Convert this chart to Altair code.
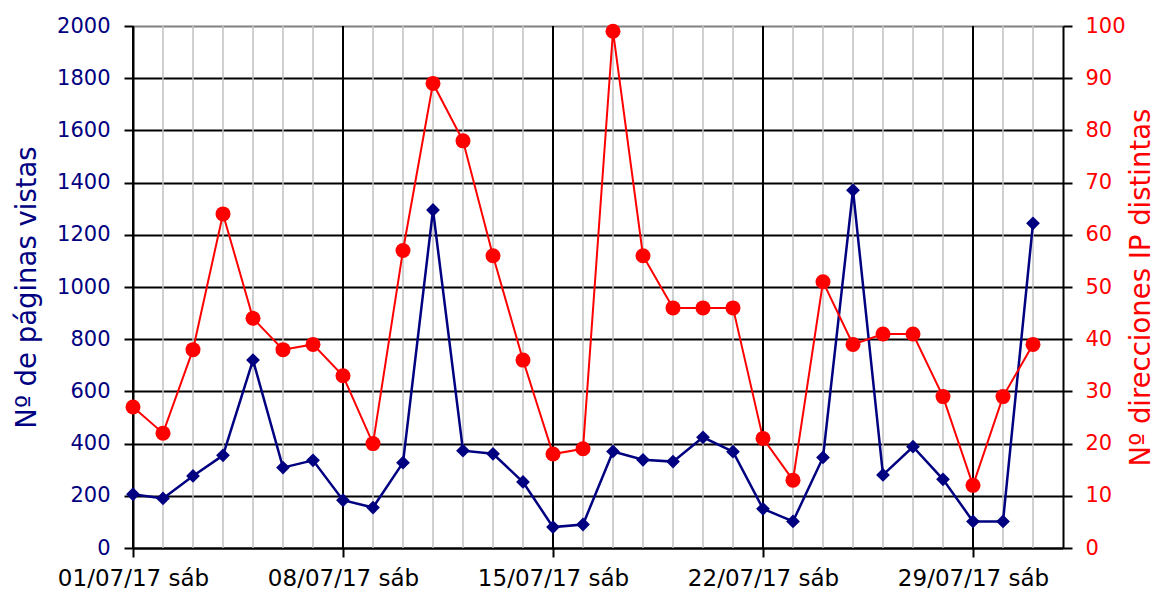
import altair as alt
import pandas as pd

days = list(range(1, 32))
paginas = [206, 190, 276, 355, 720, 308, 336, 183, 155, 327, 1295, 373, 361, 253, 80, 90,
           370, 338, 331, 424, 369, 150, 102, 347, 1371, 280, 388, 263, 102, 102, 1244]
ips = [27, 22, 38, 64, 44, 38, 39, 33, 20, 57, 89, 78, 56, 36, 18, 19,
       99, 56, 46, 46, 46, 21, 13, 51, 39, 41, 41, 29, 12, 29, 39]
major_days = [1, 8, 15, 22, 29]
major_labels = ["01/07/17 sáb", "08/07/17 sáb", "15/07/17 sáb", "22/07/17 sáb", "29/07/17 sáb"]
x_domain = [1, 32]
left_ticks = list(range(0, 2001, 200))
right_ticks = list(range(0, 101, 10))

NAVY = "#000080"
RED = "#FF0000"
FONT = "DejaVu Sans"

df = pd.DataFrame({"dia": days, "paginas": paginas, "ips": ips})
minor_df = pd.DataFrame({"dia": days})
major_df = pd.DataFrame({"dia": major_days})

label_expr = " : ".join(f"datum.value == {d} ? '{l}'" for d, l in zip(major_days, major_labels)) + " : ''"

x_enc = alt.X(
    "dia:Q",
    scale=alt.Scale(domain=x_domain, nice=False, zero=False),
    axis=alt.Axis(
        values=major_days, labelExpr=label_expr, title=None, grid=False,
        domain=True, domainColor="black", domainWidth=2,
        ticks=True, tickSize=9, tickWidth=2, tickColor="black",
        labelFontSize=23, labelColor="black", labelPadding=10, labelFont=FONT,
        labelOverlap=False, labelFlush=False,
    ),
)

minor = alt.Chart(minor_df).mark_rule(color="#C0C0C0", strokeWidth=1.5).encode(x=x_enc)
major = alt.Chart(major_df).mark_rule(color="black", strokeWidth=2).encode(x=x_enc)

blue = alt.Chart(df).mark_line(
    color=NAVY, strokeWidth=2.5,
    point=alt.OverlayMarkDef(shape="diamond", size=190, filled=True, color=NAVY, opacity=1),
).encode(
    x=x_enc,
    y=alt.Y(
        "paginas:Q",
        scale=alt.Scale(domain=[0, 2000], nice=False),
        axis=alt.Axis(
            orient="left", values=left_ticks, format="d", title="Nº de páginas vistas",
            titleColor=NAVY, titleFontSize=27.5, titleFontWeight="normal", titleFont=FONT,
            titleAngle=270, titleBaseline="alphabetic", titleAlign="center",
            titleX=-98, titleY=261,
            labelColor=NAVY, labelFontSize=21, labelFont=FONT, labelPadding=14,
            domain=True, domainColor="black", domainWidth=2,
            tickSize=9, tickWidth=2, tickColor="black",
            grid=True, gridWidth=2,
            gridColor=alt.condition("datum.value == 2000", alt.value("#808080"), alt.value("black")),
        ),
    ),
)

red = alt.Chart(df).mark_line(
    color=RED, strokeWidth=2,
    point=alt.OverlayMarkDef(shape="circle", size=225, filled=True, color=RED, opacity=1),
).encode(
    x=x_enc,
    y=alt.Y(
        "ips:Q",
        scale=alt.Scale(domain=[0, 100], nice=False),
        axis=alt.Axis(
            orient="right", values=right_ticks, format="d", title="Nº direcciones IP distintas",
            titleColor=RED, titleFontSize=27.5, titleFontWeight="normal", titleFont=FONT,
            titleAngle=270, titleBaseline="alphabetic", titleAlign="center",
            titleX=86, titleY=261,
            labelColor=RED, labelFontSize=21, labelFont=FONT, labelPadding=13,
            domain=True, domainColor="black", domainWidth=2,
            tickSize=9, tickWidth=2, tickColor="black",
            grid=False,
        ),
    ),
)

chart = alt.layer(minor, major, blue, red).resolve_scale(y="independent").properties(
    width=930, height=522,
    autosize=alt.AutoSizeParams(type="none"),
    padding={"left": 125, "top": 18, "right": 93, "bottom": 46},
    background="white",
).configure_view(
    fill="#CCFFFF", stroke="#808080", strokeWidth=2,
).configure(font=FONT)

chart.save("out.html", embed_options={"renderer": "svg", "actions": False})
